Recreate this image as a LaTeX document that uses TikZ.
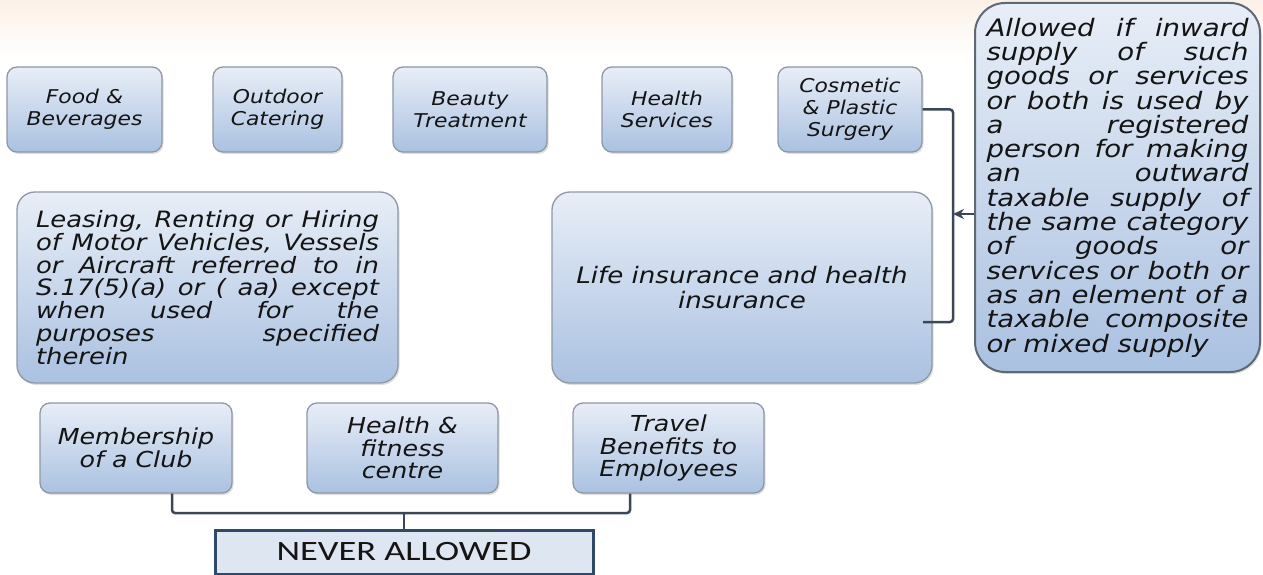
\documentclass[tikz,border=0pt]{standalone}
\usepackage{fontspec}
\newfontfamily\boxfont[FakeStretch=1.15]{DejaVu Sans}
\newfontfamily\capfont[FakeStretch=1.3]{Carlito}
\usetikzlibrary{shadows,arrows.meta}
\definecolor{bordergray}{HTML}{8E98A4}
\definecolor{rightborder}{HTML}{5F6976}
\definecolor{topfill}{HTML}{E8EEF7}
\definecolor{botfill}{HTML}{AAC1E1}
\definecolor{conncol}{HTML}{3A4757}
\definecolor{neverborder}{HTML}{2F4A68}
\definecolor{neverfill}{HTML}{DDE6F1}
\definecolor{txt}{HTML}{141414}
\definecolor{peach}{HTML}{FCF1E8}
\newcommand\jline[2]{\makebox[#1][s]{#2}}
\begin{document}
\begin{tikzpicture}[x=1pt,y=-1pt,
  card/.style={draw=bordergray, line width=1.3pt, top color=topfill, bottom color=botfill,
    rounded corners=10pt, inner sep=0pt, align=center, text=txt,
    drop shadow={shadow xshift=1.5pt, shadow yshift=-2pt, opacity=.25}},
  smallbox/.style={card, font=\boxfont\itshape\fontsize{19}{22}\selectfont, minimum height=85pt},
  botbox/.style={card, font=\boxfont\itshape\fontsize{22}{22.5}\selectfont, minimum height=90pt},
  bigbox/.style={card, rounded corners=18pt, minimum height=191pt},
  conn/.style={draw=conncol, line width=2.5pt, rounded corners=3pt}
]
\useasboundingbox (0,0) rectangle (1263,575);
\clip (0,0) rectangle (1263,575);
\shade[top color=peach, bottom color=white] (0,0) rectangle (1263,60);

% top row
\node[smallbox, minimum width=155pt] (food) at (84.5,109.5) {Food \&\\Beverages};
\node[smallbox, minimum width=129pt] (outd) at (277.5,109.5) {Outdoor\\Catering};
\node[smallbox, minimum width=154pt] (beauty) at (470,109.5) {Beauty\\Treatment};
\node[smallbox, minimum width=130pt] (hserv) at (667,109.5) {Health\\Services};
\node[smallbox, minimum width=144pt] (cos) at (850,109.5) {Cosmetic\\\& Plastic\\Surgery};

% middle row
\node[bigbox, minimum width=381pt, align=left,
      font=\boxfont\itshape\fontsize{22.5}{22.8}\selectfont] (lease) at (207.5,287.5)
  {\jline{343pt}{Leasing, Renting or Hiring}\\
   \jline{343pt}{of Motor Vehicles, Vessels}\\
   \jline{343pt}{or Aircraft referred to in}\\
   \jline{343pt}{S.17(5)(a) or ( aa) except}\\
   \jline{343pt}{when used for the}\\
   \jline{343pt}{purposes specified}\\
   therein};
\node[bigbox, minimum width=380pt,
      font=\boxfont\itshape\fontsize{22.7}{25}\selectfont] (life) at (742,287.5)
  {Life insurance and health\\insurance};

% right box
\node[card, draw=rightborder, line width=2pt, rounded corners=30pt,
      minimum width=285pt, minimum height=369pt, align=left,
      font=\boxfont\itshape\fontsize{24}{24.3}\selectfont] (allow) at (1117.5,187.5)
  {\jline{262pt}{Allowed if inward}\\
   \jline{262pt}{supply of such}\\
   \jline{262pt}{goods or services}\\
   \jline{262pt}{or both is used by}\\
   \jline{262pt}{a registered}\\
   \jline{262pt}{person for making}\\
   \jline{262pt}{an outward}\\
   \jline{262pt}{taxable supply of}\\
   \jline{262pt}{the same category}\\
   \jline{262pt}{of goods or}\\
   \jline{262pt}{services or both or}\\
   \jline{262pt}{as an element of a}\\
   \jline{262pt}{taxable composite}\\
   or mixed supply};

% bottom row
\node[botbox, minimum width=192pt] (mem) at (136,448) {Membership\\of a Club};
\node[botbox, minimum width=191pt] (fit) at (402.5,448) {Health \&\\fitness\\centre};
\node[botbox, minimum width=191pt] (trav) at (668.5,448) {Travel\\Benefits to\\Employees};

\node[draw=neverborder, line width=3pt, fill=neverfill, minimum width=378pt,
      minimum height=44pt, inner sep=0pt, text=txt,
      font=\capfont\fontsize{28}{30}\selectfont] (never) at (404,552) {NEVER ALLOWED};

% connectors
\coordinate (bk) at (953,322);
\coordinate (lb) at (923,322);
\coordinate (ar) at (953,214);
\draw[conn] (cos.east) -| (bk) -- (lb);
\draw[conn, rounded corners=0pt, -{Stealth[length=11pt,width=10pt]}] (allow.west |- ar) -- (ar);

\coordinate (bl) at (172,513);
\coordinate (br) at (630,513);
\draw[conn] (mem.south -| bl) -- (bl) -- (br) -- (trav.south -| br);
\draw[conn, rounded corners=0pt] (never.north) -- (never.north |- bl);
\end{tikzpicture}
\end{document}
